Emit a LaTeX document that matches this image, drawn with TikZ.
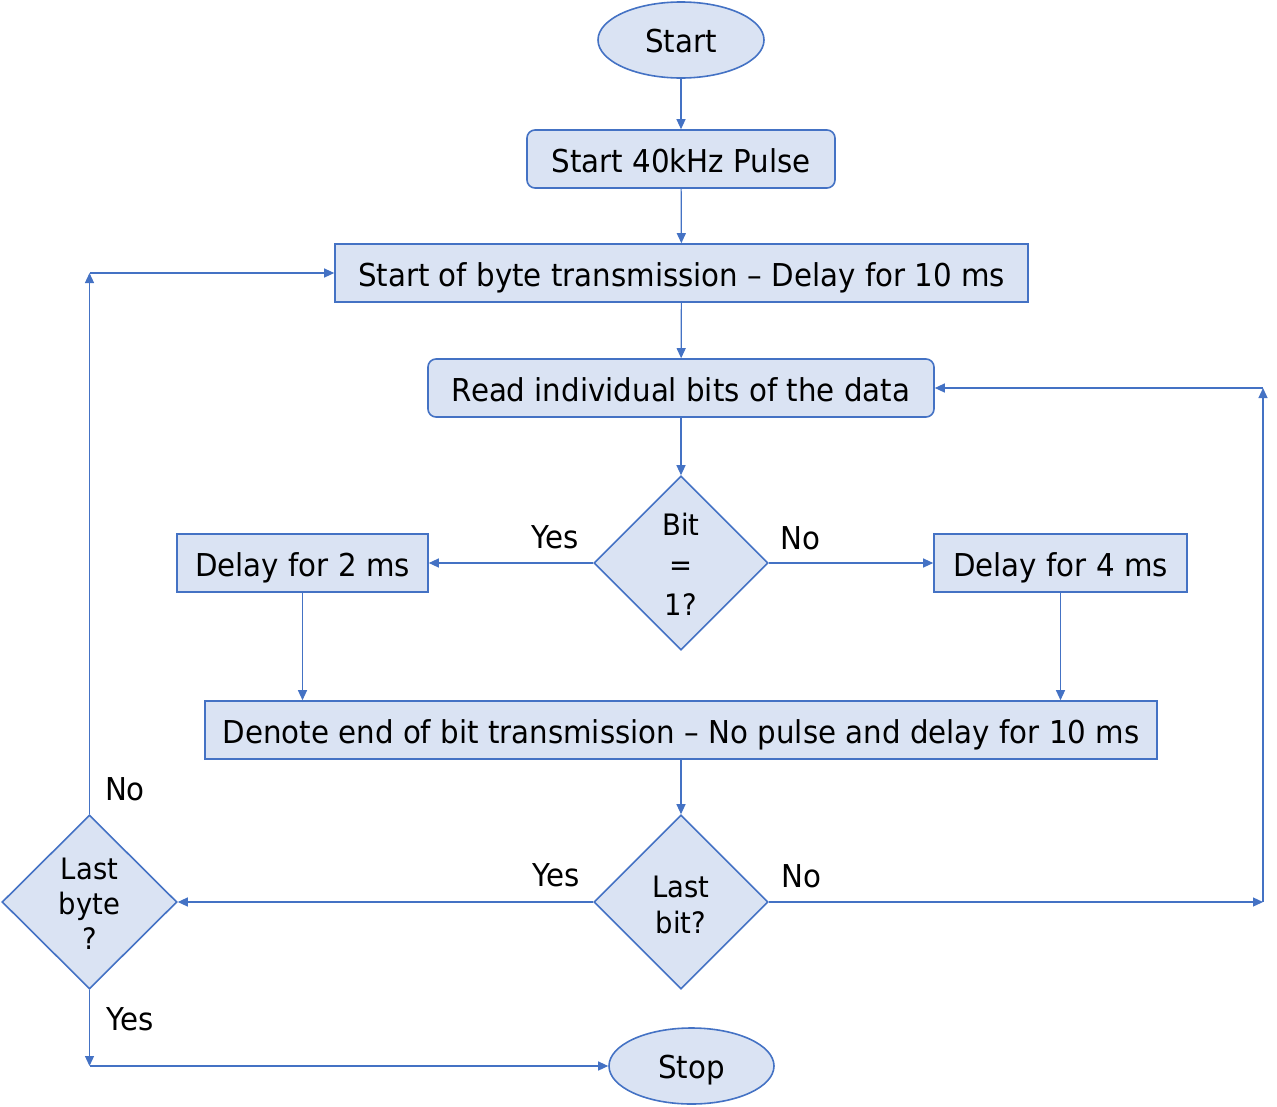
\documentclass[tikz,border=0pt]{standalone}
\usepackage{fontspec}
\setmainfont{DejaVu Sans}[FakeStretch=0.93]
\usetikzlibrary{shapes.geometric,arrows.meta}
\definecolor{lc}{HTML}{4472C4}
\definecolor{fc}{HTML}{DAE3F3}
\newcommand{\mainf}{\fontsize{31.5}{38}\selectfont}
\newcommand{\decf}{\fontsize{29.5}{36}\selectfont}
\tikzset{
 box/.style={draw=lc, fill=fc, line width=1.6pt, minimum height=58pt, inner sep=0pt, font=\mainf, text height=30pt, text depth=2.4pt},
 rbox/.style={box, rounded corners=8pt},
 dec/.style={diamond, draw=lc, fill=fc, line width=1.6pt, minimum width=174pt, minimum height=174pt, inner sep=0pt},
 dectext/.style={align=center, inner sep=0pt},
 term/.style={ellipse, draw=lc, fill=fc, line width=1.6pt, minimum width=166pt, minimum height=76pt, inner sep=0pt, font=\mainf, text height=28pt, text depth=4pt},
 conn/.style={draw=lc, line width=1.2pt, -{Triangle[length=10pt,width=9pt]}},
 lab/.style={font=\mainf, inner sep=0pt}
}
\begin{document}
\begin{tikzpicture}[x=1pt,y=-1pt]
\useasboundingbox (0,0) rectangle (1277,1106);
\node[term] (start) at (681,40) {Start};
\node[rbox, minimum width=308pt] (pulse) at (681,159) {Start 40kHz Pulse};
\node[box, minimum width=693pt] (byte) at (681.5,273) {Start of byte transmission -- Delay for 10 ms};
\node[rbox, minimum width=506pt] (read) at (681,388) {Read individual bits of the data};
\node[dec] (bit) at (681,563) {};
\node[dectext, font={\fontsize{29.5}{40}\selectfont}] (bittext) at (681,564) {Bit\\=\\1?};
\node[box, minimum width=251pt] (d2) at (302.5,563) {Delay for 2 ms};
\node[box, minimum width=253pt] (d4) at (1060.5,563) {Delay for 4 ms};
\node[box, minimum width=952pt] (den) at (681,730) {Denote end of bit transmission -- No pulse and delay for 10 ms};
\node[dec] (lbit) at (681,902) {};
\node[dectext, font=\decf] (lbittext) at (681,904.5) {Last\\bit?};
\node[dec, minimum width=175pt] (lbyte) at (89.5,902) {};
\node[dectext, font={\fontsize{29.5}{35}\selectfont}] (lbytetext) at (89.5,904) {Last\\byte\\?};
\node[term, minimum width=165pt] (stop) at (691.5,1066) {Stop};
\coordinate (rA) at (1263,902);
\coordinate (rX) at (1263,0);
\coordinate (rB) at (rX |- read.east);
\coordinate (lA) at (lbyte.north |- byte.west);
\coordinate (lC) at (lbyte.south |- stop.west);
\draw[conn] (start) -- (pulse);
\draw[conn] (pulse) -- (byte);
\draw[conn] (byte) -- (read);
\draw[conn] (read) -- (bit);
\draw[conn] (bit.west) -- (d2.east);
\draw[conn] (bit.east) -- (d4.west);
\draw[conn] (d2.south) -- (d2.south |- den.north);
\draw[conn] (d4.south) -- (d4.south |- den.north);
\draw[conn] (den) -- (lbit);
\draw[conn] (lbit.west) -- (lbyte.east);
\draw[conn] (lbit.east) -- (rA);
\draw[conn] (rA) -- (rB);
\draw[conn] (rB) -- (read.east);
\draw[conn] (lbyte.north) -- (lA);
\draw[conn] (lA) -- (byte.west);
\draw[conn] (lbyte.south) -- (lC);
\draw[conn] (lC) -- (stop.west);
\node[lab] (y1) at (555,537) {Yes};
\node[lab] (n1) at (800,538) {No};
\node[lab] (n2) at (125,789) {No};
\node[lab] (y2) at (556,875) {Yes};
\node[lab] (n3) at (801,876) {No};
\node[lab] (y3) at (130,1019) {Yes};
\end{tikzpicture}
\end{document}
